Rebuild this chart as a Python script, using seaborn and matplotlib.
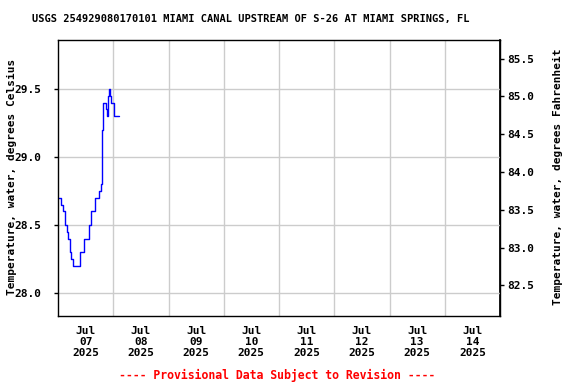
import matplotlib
matplotlib.use("Agg")
import matplotlib.pyplot as plt
import seaborn as sns
import pandas as pd

# Data: hours since 2025-07-07 00:00 (step breakpoints) and temperature (deg C)
hours = [0.0, 1.5, 2.25, 3.0, 3.75, 4.25, 5.0, 5.75, 6.5, 9.5, 11.25, 13.25,
         14.5, 16.0, 18.0, 18.5, 19.0, 19.25, 19.5, 19.75, 21.0, 21.5, 21.75,
         22.25, 22.75, 23.0, 24.25, 24.5, 26.5]
temps_c = [28.7, 28.65, 28.6, 28.5, 28.45, 28.4, 28.3, 28.25, 28.2, 28.3, 28.4, 28.5,
           28.6, 28.7, 28.75, 28.8, 28.9, 29.2, 29.35, 29.4, 29.35, 29.3, 29.45,
           29.5, 29.45, 29.4, 29.35, 29.3, 29.3]
day_labels = ["Jul\n07\n2025", "Jul\n08\n2025", "Jul\n09\n2025", "Jul\n10\n2025",
              "Jul\n11\n2025", "Jul\n12\n2025", "Jul\n13\n2025", "Jul\n14\n2025"]
left_ticks = [28.0, 28.5, 29.0, 29.5]
right_ticks = [82.5, 83.0, 83.5, 84.0, 84.5, 85.0, 85.5]

title = "USGS 254929080170101 MIAMI CANAL UPSTREAM OF S-26 AT MIAMI SPRINGS, FL"
footer = "---- Provisional Data Subject to Revision ----"
left_label = "Temperature, water, degrees Celsius"
right_label = "Temperature, water, degrees Fahrenheit"

sns.set_theme(style="white")
plt.rcParams['font.family'] = ['DejaVu Sans Mono']
plt.rcParams['font.weight'] = 'bold'
for k in ['text.color', 'xtick.color', 'ytick.color', 'axes.labelcolor']:
    plt.rcParams[k] = 'black'

start = pd.Timestamp("2025-07-07")
df = pd.DataFrame({"time": [start + pd.Timedelta(hours=h) for h in hours],
                   "temp": temps_c})

fig = plt.figure(figsize=(5.76, 3.84), dpi=100)
ax = fig.add_axes([58/576, 1-316/384, (500-58)/576, (316-40)/384])

sns.lineplot(data=df, x="time", y="temp", ax=ax, color="#0000ff",
             linewidth=1.0, drawstyle="steps-post")

ax.set_xlim(start, start + pd.Timedelta(days=8))
ax.set_ylim(27.83, 29.86)

noon = [start + pd.Timedelta(days=i, hours=12) for i in range(8)]
mid = [start + pd.Timedelta(days=i) for i in range(1, 8)]
ax.set_xticks(noon)
ax.set_xticklabels(day_labels, fontsize=8, fontweight='bold', linespacing=1.15)
ax.set_xticks(mid, minor=True)
ax.tick_params(axis='x', which='both', length=0, pad=7)
ax.grid(True, axis='x', which='minor', color='#cccccc', linewidth=1)
ax.grid(True, axis='y', which='major', color='#cccccc', linewidth=1)
ax.set_yticks(left_ticks)
ax.set_yticklabels([f"{v:.1f}" for v in left_ticks], fontsize=8, fontweight='bold')
ax.tick_params(axis='y', which='major', length=3, width=1, color='black',
               direction='out', left=True, pad=9)
ax.set_xlabel("")
ax.set_ylabel("")

for s in ax.spines.values():
    s.set_color('black')
    s.set_linewidth(1)

sec = ax.secondary_yaxis('right', functions=(lambda c: c*1.8+32, lambda f: (f-32)/1.8))
sec.set_yticks(right_ticks)
sec.set_yticklabels([f"{v:.1f}" for v in right_ticks], fontsize=8, fontweight='bold')
sec.tick_params(axis='y', length=3, width=1, color='black', direction='out', pad=2)
sec.spines['right'].set_color('black')

fig.text(12/576, 1-177/384, left_label, rotation=90, ha='center', va='center',
         fontsize=8, fontweight='bold')
fig.text(558/576, 1-177/384, right_label, rotation=90, ha='center', va='center',
         fontsize=8, fontweight='bold')
fig.text(251/576, 1-19/384, title, ha='center', va='center', fontsize=7.5, fontweight='bold')
fig.text(277/576, 1-375/384, footer, ha='center', va='center', fontsize=8.3,
         fontweight='bold', color='red')

fig.savefig("out.png", dpi=100)
